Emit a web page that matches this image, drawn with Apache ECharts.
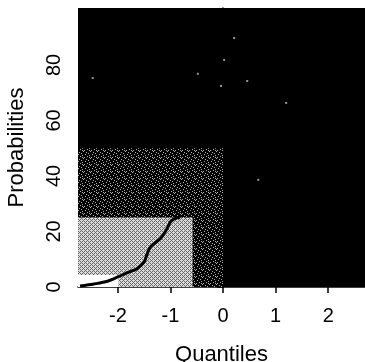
<!DOCTYPE html>
<html>
<head>
<meta charset="utf-8">
<script src="https://cdn.jsdelivr.net/npm/echarts@6/dist/echarts.min.js"></script>
<style>
  html, body { margin: 0; background: #fff; }
  #chart { width: 365px; height: 362px; }
</style>
</head>
<body>
<div id="chart"></div>
<script>
// axis ticks
const xTicks = [-2, -1, 0, 1, 2];
const yTicks = [0, 20, 40, 60, 80];

// shaded bands, all start at the left edge of the plot
const bandRight = [0, -0.58, -1.99];
const bandTop = [50, 25, 4.3];

// the curve
const curveX = [-2.72, -2.46, -2.2, -1.99, -1.82, -1.63, -1.5, -1.44, -1.38, -1.19, -1.06, -1.0, -0.9, -0.82];
const curveY = [0.36, 1.08, 2.05, 3.7, 5.15, 6.7, 9.1, 12.1, 14.5, 17.5, 21.2, 23.5, 24.8, 25.0];

// stray light specks in the black area
const speckX = [0.21, 0.02, -0.48, 0.46, -0.04, 1.2, 0.67, -2.48];
const speckY = [89.7, 81.8, 76.8, 74.2, 72.4, 66.3, 38.6, 75.3];

const xMin = -2.76, xMax = 2.70;

function texture(size, bg, fg, cells) {
  const c = document.createElement('canvas');
  c.width = c.height = size;
  const ctx = c.getContext('2d');
  ctx.fillStyle = bg;
  ctx.fillRect(0, 0, size, size);
  ctx.fillStyle = fg;
  cells.forEach(([i, j]) => ctx.fillRect(i, j, 1, 1));
  return c;
}

const darkTex = texture(7, '#000', '#b0b0b0',
  [[1, 0], [5, 1], [3, 2], [0, 3], [6, 4], [2, 5], [4, 6], [5, 3]]);
const lightTex = texture(4, '#666', '#dcdcdc',
  [[0, 0], [2, 0], [1, 1], [3, 1], [0, 2], [2, 2], [1, 3], [3, 3], [1, 0], [3, 2]]);
const bandFills = [
  { image: darkTex, repeat: 'repeat' },
  { image: lightTex, repeat: 'repeat' },
  '#fff'
];

const chart = echarts.init(document.getElementById('chart'));

chart.setOption({
  animation: false,
  grid: {
    left: 78, right: 0, top: 8, bottom: 75,
    outerBoundsMode: 'none',
    show: true, backgroundColor: '#000', borderWidth: 0
  },
  xAxis: {
    type: 'value',
    min: xMin, max: xMax,
    name: 'Quantiles',
    nameLocation: 'middle',
    nameGap: 57,
    nameTextStyle: { fontFamily: 'Liberation Sans', fontSize: 22, color: '#000' },
    axisLine: { show: true, onZero: false, lineStyle: { color: '#000', width: 1.5 } },
    axisTick: { show: true, customValues: xTicks, length: 6, lineStyle: { color: '#000', width: 1.5 } },
    axisLabel: {
      customValues: xTicks, margin: 19,
      fontFamily: 'Liberation Sans', fontSize: 20, color: '#000'
    },
    splitLine: { show: false }
  },
  yAxis: {
    type: 'value',
    min: 0, max: 100.5,
    name: 'Probabilities',
    nameLocation: 'middle',
    nameGap: 50,
    nameTextStyle: { fontFamily: 'Liberation Sans', fontSize: 22, color: '#000' },
    axisLine: { show: true, lineStyle: { color: '#000', width: 1.5 } },
    axisTick: { show: true, customValues: yTicks, length: 6, lineStyle: { color: '#000', width: 1.5 } },
    axisLabel: {
      customValues: yTicks, rotate: 90, margin: 14,
      fontFamily: 'Liberation Sans', fontSize: 20, color: '#000'
    },
    splitLine: { show: false }
  },
  series: [
    {
      type: 'custom',
      silent: true,
      data: bandRight.map((r, i) => [r, bandTop[i], i]),
      renderItem: (params, api) => {
        const i = api.value(2);
        const p0 = api.coord([xMin, api.value(1)]);
        const p1 = api.coord([api.value(0), 0]);
        return {
          type: 'rect',
          shape: { x: p0[0], y: p0[1], width: p1[0] - p0[0], height: p1[1] - p0[1] },
          style: { fill: bandFills[i] }
        };
      },
      z: 1
    },
    {
      type: 'scatter',
      silent: true,
      data: speckX.map((x, i) => [x, speckY[i]]),
      symbol: 'rect',
      symbolSize: 2,
      itemStyle: { color: '#bbb' },
      z: 2
    },
    {
      type: 'line',
      silent: true,
      data: curveX.map((x, i) => [x, curveY[i]]),
      showSymbol: false,
      smooth: 0.3,
      lineStyle: { color: '#000', width: 3 },
      z: 3
    }
  ]
});
</script>
</body>
</html>
